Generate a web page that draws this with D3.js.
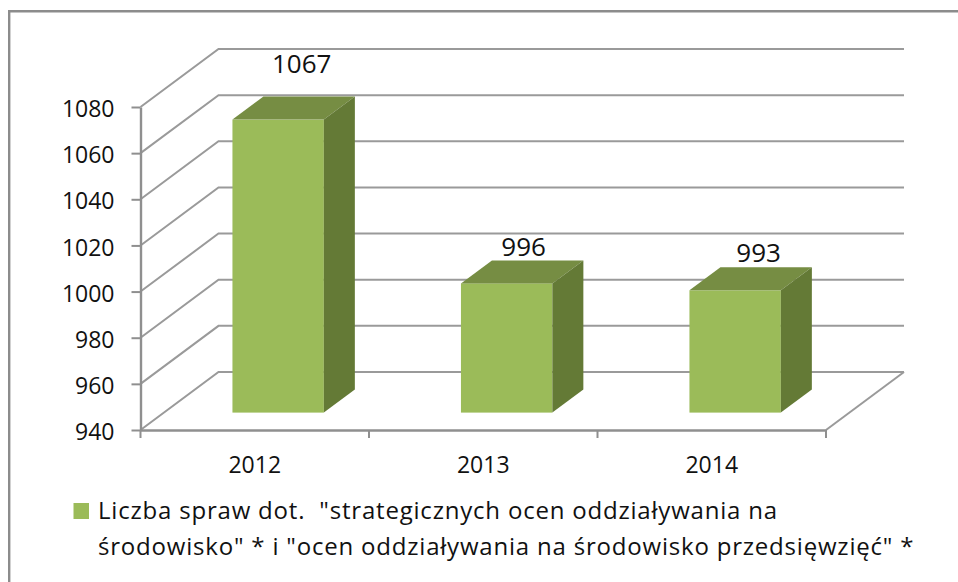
<!DOCTYPE html>
<html><head><meta charset="utf-8">
<script src="https://cdn.jsdelivr.net/npm/d3@7/dist/d3.min.js"></script>
<style>html,body{margin:0;padding:0;background:#fff;overflow:hidden}svg{display:block}text{font-family:"Open Sans",sans-serif;fill:#111}</style>
</head><body><script>
const categories = ["2012","2013","2014"];
const values = [1067,996,993];
const dataLabels = ["1067","996","993"];
const yTicks = [940,960,980,1000,1020,1040,1060,1080];
const legendLines = ['Liczba spraw dot.  "strategicznych ocen oddziaływania na','środowisko" * i "ocen oddziaływania na środowisko przedsięwzięć" *'];

const W=958,H=582;
const svg=d3.select("body").append("svg").attr("width",W).attr("height",H);
const frame=d3.path();frame.moveTo(9.2,H);frame.lineTo(9.2,11.2);frame.lineTo(W,11.2);
svg.append("path").attr("d",frame).attr("fill","none").attr("stroke","#8c8c8c").attr("stroke-width",2.4);

const x=d3.scaleBand().domain(categories).range([140.5,826]).paddingInner(0).paddingOuter(0);
const y=d3.scaleLinear().domain([940,1080]).range([430,107]);
const dX=78,dY=-58, barDepth=.3, depthDx=31, depthDy=-23;
const grid=svg.append("g").attr("fill","none").attr("stroke","#9a9a9a").attr("stroke-width",2);
const x0=x.range()[0],x1=x.range()[1];
yTicks.forEach(t=>{
  const p=d3.path();
  p.moveTo(x0,y(t));p.lineTo(x0+dX,y(t)+dY);p.lineTo(x1+dX,y(t)+dY);
  grid.append("path").attr("d",p);
});
{const p=d3.path();p.moveTo(x1,y(940));p.lineTo(x1+dX,y(940)+dY);grid.append("path").attr("d",p);}

const yAxis=svg.append("g").attr("transform",`translate(${x0},0)`).call(d3.axisLeft(y).tickValues(yTicks).tickFormat(d3.format("d")).tickSize(9).tickSizeOuter(0).tickPadding(17));
const xAxis=svg.append("g").attr("transform",`translate(0,${y(940)})`).call(d3.axisBottom(x).tickValues([]).tickSizeOuter(0));
[yAxis,xAxis].forEach(a=>{a.selectAll("path,line").attr("stroke","#8f8f8f").attr("stroke-width",2);a.select(".domain").attr("stroke","#8f8f8f").attr("stroke-width",2.4)});
yAxis.selectAll("text").attr("font-size",23).attr("fill","#111").attr("font-family","Open Sans").attr("dy","0.42em");
const bt=[...categories.map(c=>x(c)),x1];
svg.append("g").selectAll("line").data(bt).join("line").attr("x1",d=>d).attr("x2",d=>d).attr("y1",y(940)).attr("y2",y(940)+8).attr("stroke","#8f8f8f").attr("stroke-width",2);
svg.append("g").selectAll("text").data(categories).join("text").attr("x",d=>x(d)+x.bandwidth()/2).attr("y",473).attr("text-anchor","middle").attr("font-size",23).text(d=>d);

const bw=x.bandwidth()*.4, sx=dX*barDepth, sy=dY*barDepth;
const bars=svg.append("g").selectAll("g").data(values).join("g");
const fx=(d,i)=>x(categories[i])+(x.bandwidth()-bw)/2+sx;
const ftop=d=>y(d)+sy, fbot=y(940)+sy;
bars.append("rect").attr("x",fx).attr("y",d=>ftop(d)).attr("width",bw).attr("height",d=>fbot-ftop(d)).attr("fill","#9bbb59");
bars.append("path").attr("fill","#768d43").attr("d",(d,i)=>{const a=fx(d,i),t=ftop(d),p=d3.path();p.moveTo(a,t);p.lineTo(a+depthDx,t+depthDy);p.lineTo(a+bw+depthDx,t+depthDy);p.lineTo(a+bw,t);p.closePath();return p;});
bars.append("path").attr("fill","#647a36").attr("d",(d,i)=>{const a=fx(d,i)+bw,t=ftop(d),p=d3.path();p.moveTo(a,t);p.lineTo(a+depthDx,t+depthDy);p.lineTo(a+depthDx,fbot+depthDy);p.lineTo(a,fbot);p.closePath();return p;});
bars.append("text").attr("x",(d,i)=>fx(d,i)+bw/2+[23.5,17,23.5][i]).attr("y",(d,i)=>ftop(d)+depthDy+[-24,-4,-5][i]).attr("text-anchor","middle").attr("font-size",26).text((d,i)=>dataLabels[i]);

svg.append("rect").attr("x",73.5).attr("y",503).attr("width",15.5).attr("height",16).attr("fill","#9bbb59");
svg.append("g").selectAll("text").data(legendLines).join("text").attr("x",98).attr("y",(d,i)=>519+i*36).attr("font-size",24).attr("letter-spacing",0.8).style("white-space","pre").text(d=>d);
</script></body></html>
